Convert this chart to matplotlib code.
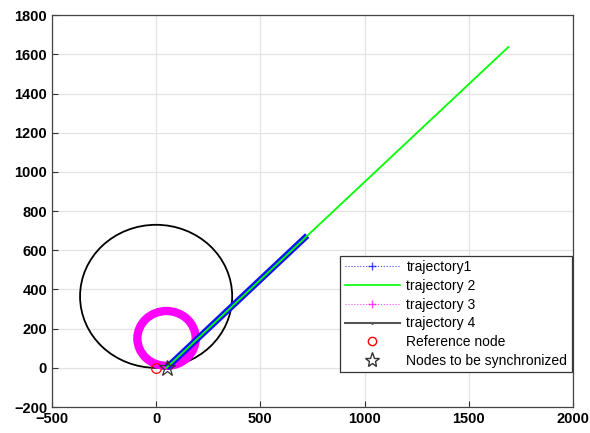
import numpy as np
import matplotlib
matplotlib.use("Agg")
import matplotlib.pyplot as plt
from matplotlib.patches import Circle
from matplotlib.lines import Line2D

#==============================
#          DATA
#==============================
start = [50, 0]
traj1_end = [725, 675]
traj2_end = [1690, 1637]
traj3_center = [50, 150]
traj3_radius = 140
traj4_center = [0, 365]
traj4_radius = 365
ref_node = [0, 0]
sync_node = [50, 0]

labels = ["trajectory1", "trajectory 2", "trajectory 3", "trajectory 4",
          "Reference node", "Nodes to be synchronized"]
xticks = [-500, 0, 500, 1000, 1500, 2000]
yticks = [-200, 0, 200, 400, 600, 800, 1000, 1200, 1400, 1600, 1800]

plt.rcParams['font.family'] = ['Liberation Sans', 'DejaVu Sans']

#==============================
#          PLOT
#==============================
fig = plt.figure(figsize=(5.9, 4.33), dpi=100)
ax = fig.add_axes([0.088, 0.060, 0.883, 0.905])

# trajectory 4 (black circle)
ax.add_patch(Circle(traj4_center, traj4_radius, fill=False, ec='k', lw=1.3, zorder=3))
# trajectory 3 (magenta, dense markers -> thick ring)
ax.add_patch(Circle(traj3_center, traj3_radius, fill=False, ec='#ff00ff', lw=6, zorder=4))
# trajectory 1 (blue, dense markers -> thick line)
ax.plot([start[0], traj1_end[0]], [start[1], traj1_end[1]], color='#1010ff',
        lw=4.5, solid_capstyle='butt', zorder=5)
# trajectory 2 (green)
ax.plot([start[0], traj2_end[0]], [start[1], traj2_end[1]], color='#00ff00',
        lw=1.3, zorder=6)
# nodes
ax.plot(ref_node[0], ref_node[1], 'o', mfc='none', mec='r', ms=7, mew=0.9, zorder=7)
ax.plot(sync_node[0], sync_node[1], '*', mfc='none', mec='#333333', ms=12, mew=0.9, zorder=7)

ax.set_xlim(-500, 2000)
ax.set_ylim(-200, 1800)
ax.set_xticks(xticks)
ax.set_yticks(yticks)
ax.tick_params(direction='in', length=4, labelsize=10.5, colors='#333333',
               labelcolor='black', top=False, right=False)
for lab in ax.get_xticklabels() + ax.get_yticklabels():
    lab.set_fontweight('bold')
ax.grid(True, color='#e3e3e3', lw=0.9)
ax.set_axisbelow(True)
for s in ax.spines.values():
    s.set_color('#444444')
    s.set_linewidth(0.9)

handles = [
    Line2D([], [], color='#0000ff', ls=':', lw=0.8, marker='+', ms=6, markevery=[1], alpha=0.7),
    Line2D([], [], color='#00ff00', lw=1.2),
    Line2D([], [], color='#ff00ff', ls=':', lw=0.8, marker='+', ms=6, markevery=[1], alpha=0.7),
    Line2D([], [], color='#555555', lw=1.5, marker='.', ms=2),
    Line2D([], [], color='r', ls='none', marker='o', mfc='none', ms=6),
    Line2D([], [], color='#333333', ls='none', marker='*', mfc='none', ms=11),
]
leg = ax.legend(handles, labels, loc='lower right', bbox_to_anchor=(1.0, 0.085),
                fontsize=10, frameon=True, fancybox=False, edgecolor='#333333',
                framealpha=1, borderaxespad=0.1, handlelength=4.0, handletextpad=0.45,
                labelspacing=0.35, borderpad=0.3)
leg.get_frame().set_linewidth(0.9)

fig.savefig("out.png", dpi=100)
